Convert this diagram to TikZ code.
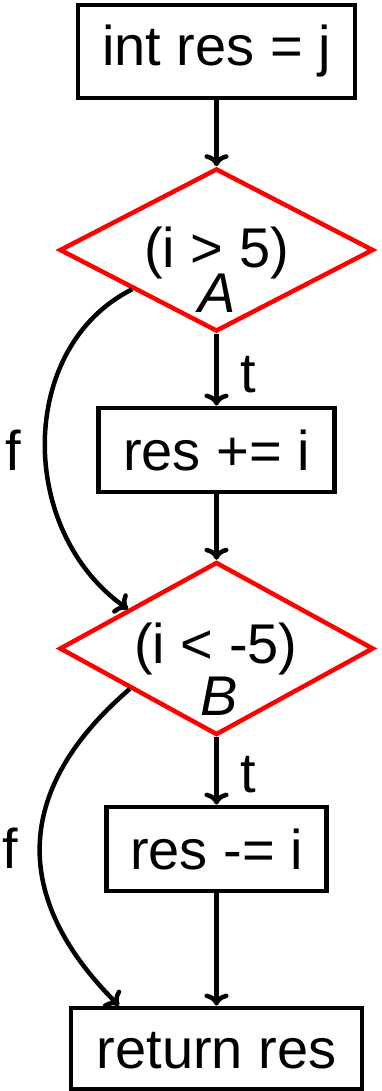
\documentclass[tikz,border=0pt]{standalone}
\usepackage{fontspec}
\setmainfont{Liberation Sans}
\usetikzlibrary{shapes.geometric,arrows.meta,calc}
\newcommand\cfgfont{\fontsize{56}{60}\selectfont}
\begin{document}
\begin{tikzpicture}[x=1pt,y=-1pt,
  box/.style={draw, line width=4.8pt, inner sep=0pt, text height=40pt, text depth=0pt, font=\cfgfont},
  decision/.style={draw=red, line width=4.5pt, shape=diamond, inner sep=0pt},
  lbl/.style={anchor=base, inner sep=0pt, font=\cfgfont},
  arr/.style={line width=4.5pt, -{Computer Modern Rightarrow[length=12pt,width=24pt]}}]
\useasboundingbox (0,0) rectangle (381,1091);

\node[box, minimum width=277pt, minimum height=93pt, text depth=12pt] (b1) at (216.5,51.5) {int res = j};
\node[decision, minimum width=314pt, minimum height=163pt] (dA) at (216.5,250) {};
\node[lbl] (tA) at (216.5,267) {(i > 5)};
\node[lbl] (nA) at (217,312) {\itshape A};
\node[box, minimum width=236pt, minimum height=84pt] (b2) at (216.5,450) {res += i};
\node[decision, minimum width=314pt, minimum height=173pt] (dB) at (216.5,648.5) {};
\node[lbl] (tB) at (216,663) {(i < -5)};
\node[lbl] (nB) at (219,715) {\itshape B};
\node[box, minimum width=219.5pt, minimum height=84pt] (b3) at (216.5,849) {res -= i};
\node[box, minimum width=291pt, minimum height=81pt] (b4) at (216.5,1048.5) {return res};

\draw[arr] (b1) -- (dA);
\draw[arr] (dA) -- (b2);
\draw[arr] (b2) -- (dB);
\draw[arr] (dB) -- (b3);
\draw[arr] (b3) -- (b4);

\coordinate (e2) at ([xshift=-97.5pt]b4.north);
\draw[arr] (dA.205) .. controls (17,347) and (17,531) .. (dB.156);
\draw[arr] (dB.205) .. controls (12,790) and (12,899) .. (e2);

\node[lbl] (f1) at (13,470) {f};
\node[lbl] (f2) at (10,868) {f};
\node[lbl] (t1) at (248.5,392) {t};
\node[lbl] (t2) at (248.5,792) {t};
\end{tikzpicture}
\end{document}
